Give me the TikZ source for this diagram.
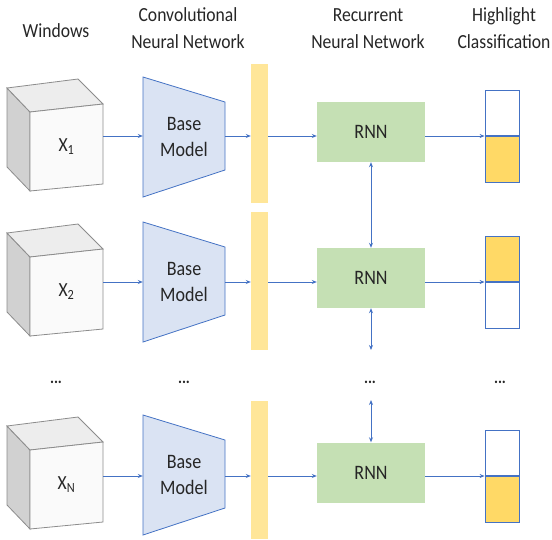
\documentclass[tikz,border=0pt]{standalone}
\usepackage{fontspec}
\setmainfont{Carlito}[FakeStretch=0.88]
\usetikzlibrary{arrows.meta}
\definecolor{cblue}{HTML}{4472C4}
\definecolor{tfill}{HTML}{DAE3F3}
\definecolor{barfill}{HTML}{FFE699}
\definecolor{rnnfill}{HTML}{C5E0B4}
\definecolor{clsfill}{HTML}{FFD966}
\definecolor{cubeedge}{HTML}{8C8C8C}
\definecolor{txt}{HTML}{262626}
\tikzset{
  hdr/.style={font=\fontsize{20}{27}\selectfont, text=txt, align=center, inner sep=0pt},
  boxtxt/.style={font=\fontsize{20.5}{26}\selectfont, text=txt, align=center},
  ghost/.style={draw=none, inner sep=0pt},
  conn/.style={draw=cblue, line width=0.9pt, -{Stealth[length=5pt,width=4pt]}},
  dconn/.style={draw=cblue, line width=0.9pt, {Stealth[length=5pt,width=4pt]}-{Stealth[length=5pt,width=4pt]}},
  barbox/.style={fill=barfill, draw=none, minimum width=17pt, inner sep=0pt},
  rnnbox/.style={fill=rnnfill, draw=none, minimum width=108pt, minimum height=60pt, inner sep=0pt, text=txt, font=\fontsize{20.5}{22}\selectfont},
  clsbox/.style={draw=cblue, line width=0.8pt, minimum width=34pt, minimum height=45.5pt, inner sep=0pt},
  dots/.style={font=\fontsize{17}{17}\selectfont\bfseries, text=txt, inner sep=0pt},
}
\begin{document}
\begin{tikzpicture}[x=1pt,y=-1pt]
\useasboundingbox (0,0) rectangle (552,539);
% headers
\node[hdr] (hw) at (56,31) {Windows};
\node[hdr] (hc) at (188,28.5) {Convolutional\\Neural Network};
\node[hdr] (hr) at (368,28.5) {Recurrent\\Neural Network};
\node[hdr] (hh) at (504,28.5) {Highlight\\Classification};

\foreach \i/\dy/\lab/\bt/\bb/\ry/\ay/\top/\bot in
  {1/0/1/64/203/132/136/white/clsfill,
   2/145/2/212/350/278/282/clsfill/white,
   3/338/N/401/539/472.5/476/white/clsfill}{
  \begin{scope}[shift={(0,\dy)}]
    % cube
    \draw[cubeedge, line width=0.8pt, fill=black!18] (7,88) -- (30,112) -- (30,191) -- (7,167) -- cycle;
    \draw[cubeedge, line width=0.8pt, fill=black!7] (7,88) -- (78,79) -- (103,104) -- (30,112) -- cycle;
    \draw[cubeedge, line width=0.8pt, fill=black!2] (30,112) -- (103,104) -- (103,184) -- (30,191) -- cycle;
    \node[ghost, minimum width=73pt, minimum height=70pt, text=txt, font=\fontsize{20}{22}\selectfont] (c\i) at (66.5,147) {X\textsubscript{\lab}};
    % trapezoid
    \draw[cblue, line width=0.8pt, fill=tfill] (143,77) -- (225,102) -- (225,170) -- (143,197) -- cycle;
    \node[ghost, minimum width=82pt, minimum height=60pt, boxtxt] (t\i) at (184,137) {Base\\Model};
  \end{scope}
  % bar
  \node[barbox, minimum height={\bb-\bt}] (b\i) at (259.5,{(\bt+\bb)/2}) {};
  % rnn
  \node[rnnbox] (r\i) at (371,\ry) {RNN};
  % classification box
  \node[clsbox, fill=\top, anchor=south] (k\i a) at (502,\ay) {};
  \node[clsbox, fill=\bot, anchor=north] (k\i b) at (k\i a.south) {};
  \coordinate (y\i) at (0,\ay);
  % connectors
  \draw[conn] (c\i.east |- y\i) -- (t\i.west |- y\i);
  \draw[conn] (t\i.east |- y\i) -- (b\i.west |- y\i);
  \draw[conn] (b\i.east |- y\i) -- (r\i.west |- y\i);
  \draw[conn] (r\i.east |- y\i) -- (k\i a.south west);
}
% vertical recurrent connectors
\draw[dconn] (r1.south) -- (r2.north);
\coordinate (down2) at (371,350);
\coordinate (up3) at (371,400);
\draw[dconn] (r2.south) -- (down2);
\draw[dconn] (up3) -- (r3.north);
% ellipsis row
\node[dots] (d1) at (56,382) {...};
\node[dots] (d2) at (184,382) {...};
\node[dots] (d3) at (370,382) {...};
\node[dots] (d4) at (500,382) {...};
\end{tikzpicture}
\end{document}
